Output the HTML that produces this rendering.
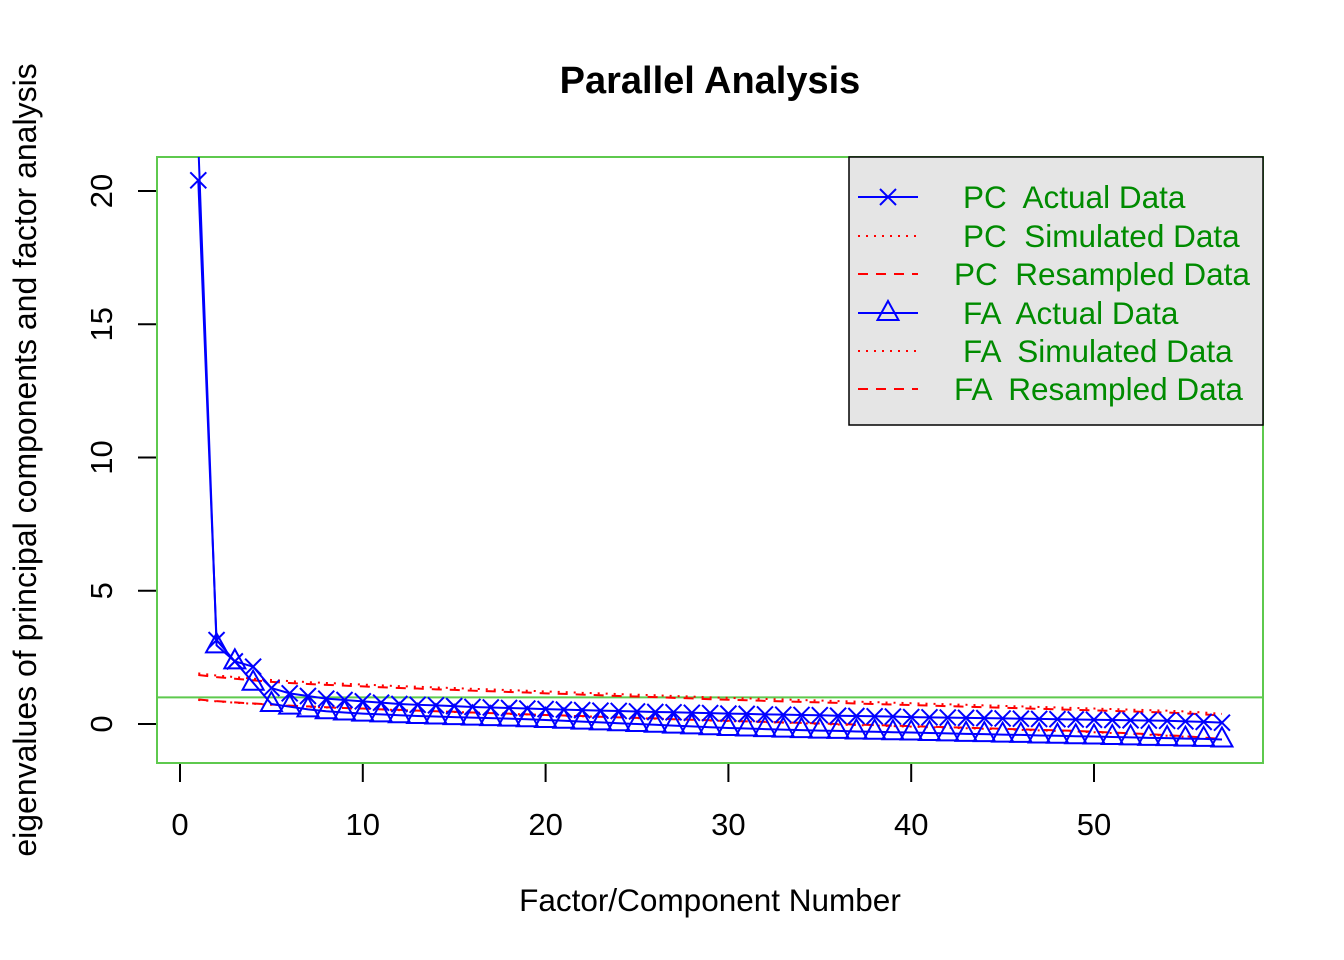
<!DOCTYPE html>
<html><head><meta charset="utf-8"><style>body{margin:0;background:#fff}svg{display:block}text{font-family:"Liberation Sans",Arial,sans-serif;white-space:pre}</style></head>
<body>
<svg id="chart" width="1344" height="960" xmlns="http://www.w3.org/2000/svg" xml:space="preserve">
<rect width="1344" height="960" fill="#fff"/>
<text x="710" y="93" font-size="38" font-weight="bold" text-anchor="middle">Parallel Analysis</text>
<text x="710" y="911" font-size="31.5" text-anchor="middle">Factor/Component Number</text>
<text transform="translate(36,460) rotate(-90)" font-size="32" text-anchor="middle">eigenvalues of principal components and factor analysis</text>
<g id="axes"></g>
<g id="marks"></g>
<g id="legend"></g>
</svg>
<script>
const xTicks=[0,10,20,30,40,50];
const yTicks=[0,5,10,15,20];
const pcActual=[20.4,3.15,2.35,2.15,1.35,1.15,1.05,0.95,0.9,0.85,0.8,0.75,0.72,0.7,0.67,0.64,0.62,0.6,0.58,0.56,0.54,0.52,0.5,0.49,0.47,0.45,0.44,0.42,0.41,0.39,0.38,0.36,0.35,0.34,0.33,0.31,0.3,0.29,0.28,0.26,0.25,0.24,0.23,0.22,0.21,0.2,0.19,0.18,0.17,0.16,0.15,0.14,0.13,0.12,0.1,0.08,0.05];
const faActual=[21.8,2.95,2.35,1.55,0.75,0.65,0.55,0.48,0.43,0.39,0.36,0.33,0.3,0.28,0.26,0.24,0.22,0.2,0.18,0.15,0.12,0.09,0.06,0.03,0.0,-0.03,-0.06,-0.09,-0.12,-0.15,-0.17,-0.19,-0.21,-0.23,-0.25,-0.26,-0.28,-0.29,-0.31,-0.32,-0.34,-0.35,-0.37,-0.38,-0.4,-0.41,-0.43,-0.44,-0.46,-0.47,-0.49,-0.5,-0.52,-0.53,-0.55,-0.56,-0.58];
const pcSim=[1.9,1.82,1.76,1.7,1.65,1.61,1.57,1.54,1.51,1.48,1.45,1.42,1.4,1.37,1.35,1.32,1.3,1.27,1.25,1.22,1.2,1.17,1.15,1.12,1.1,1.08,1.05,1.03,1.0,0.98,0.96,0.94,0.92,0.9,0.88,0.86,0.84,0.82,0.8,0.78,0.76,0.74,0.72,0.7,0.68,0.66,0.64,0.62,0.6,0.58,0.56,0.54,0.52,0.5,0.47,0.43,0.38];
const pcRes=[1.84,1.76,1.7,1.64,1.58,1.54,1.5,1.47,1.44,1.41,1.38,1.35,1.33,1.3,1.28,1.25,1.23,1.2,1.18,1.15,1.13,1.1,1.08,1.05,1.03,1.01,0.98,0.96,0.93,0.91,0.89,0.87,0.85,0.83,0.81,0.79,0.77,0.75,0.73,0.71,0.69,0.67,0.65,0.63,0.61,0.59,0.57,0.55,0.53,0.51,0.49,0.47,0.45,0.43,0.4,0.36,0.32];
const faSim=[0.9,0.85,0.8,0.76,0.72,0.68,0.65,0.62,0.6,0.57,0.55,0.52,0.5,0.48,0.45,0.43,0.41,0.38,0.36,0.34,0.31,0.29,0.27,0.25,0.22,0.2,0.18,0.16,0.13,0.11,0.09,0.07,0.05,0.03,0.0,-0.02,-0.04,-0.06,-0.08,-0.1,-0.12,-0.14,-0.16,-0.18,-0.2,-0.22,-0.24,-0.26,-0.28,-0.31,-0.34,-0.37,-0.4,-0.44,-0.48,-0.53,-0.58];
const faRes=[0.92,0.86,0.81,0.77,0.73,0.69,0.66,0.63,0.6,0.58,0.55,0.53,0.5,0.48,0.46,0.43,0.41,0.39,0.36,0.34,0.32,0.3,0.27,0.25,0.23,0.21,0.18,0.16,0.14,0.12,0.1,0.08,0.06,0.04,0.02,0.0,-0.02,-0.04,-0.06,-0.08,-0.1,-0.12,-0.14,-0.16,-0.18,-0.2,-0.22,-0.24,-0.26,-0.29,-0.32,-0.35,-0.38,-0.42,-0.46,-0.51,-0.56];
const refLine=1;
const legendLabels=["PC  Actual Data","PC  Simulated Data","PC  Resampled Data","FA  Actual Data","FA  Simulated Data","FA  Resampled Data"];

const NS="http://www.w3.org/2000/svg";
const X=v=>180+v*18.28;
const Y=v=>724-v*26.65;
const PL=157,PR=1263,PT=157,PB=763;
function mk(tag,attrs,parent){const e=document.createElementNS(NS,tag);for(const k in attrs)e.setAttribute(k,attrs[k]);parent.appendChild(e);return e;}
const axes=document.getElementById('axes'),marks=document.getElementById('marks'),leg=document.getElementById('legend');

const defs=mk('defs',{},document.getElementById('chart'));
const cp=mk('clipPath',{id:'pc'},defs);mk('rect',{x:PL,y:PT,width:PR-PL,height:PB-PT},cp);
marks.setAttribute('clip-path','url(#pc)');

xTicks.forEach(t=>{
  const l=mk('line',{x1:X(t),x2:X(t),y1:PB,y2:PB+19,stroke:'#000','stroke-width':2},axes);
  
  
  const tx=mk('text',{x:X(t),y:835,'font-size':31,'text-anchor':'middle'},axes);tx.textContent=t;
  
  
});
yTicks.forEach(t=>{
  const l=mk('line',{x1:PL-19,x2:PL,y1:Y(t),y2:Y(t),stroke:'#000','stroke-width':2},axes);
  
  
  const tx=mk('text',{transform:`translate(112,${Y(t)}) rotate(-90)`,'font-size':31,'text-anchor':'middle'},axes);tx.textContent=t;
  
  
});
const box=mk('rect',{x:PL,y:PT,width:PR-PL,height:PB-PT,fill:'none',stroke:'#5ec94e','stroke-width':2},axes);


const rl=mk('line',{x1:PL,x2:PR,y1:Y(refLine),y2:Y(refLine),stroke:'#5ec94e','stroke-width':2},axes);



function pts(arr){return arr.map((v,i)=>X(i+1)+','+Y(v)).join(' ');}
function series(arr,color,dash,name){
  const p=mk('polyline',{points:pts(arr),fill:'none',stroke:color,'stroke-width':2,'stroke-dasharray':dash||'none'},marks);
  
  
}
series(pcSim,'#ff0000','2 6','pc-simulated-line');
series(pcRes,'#ff0000','10 8','pc-resampled-line');
series(faSim,'#ff0000','2 6','fa-simulated-line');
series(faRes,'#ff0000','10 8','fa-resampled-line');
series(pcActual,'#0000ff','','pc-actual-line');
series(faActual,'#0000ff','','fa-actual-line');
function cross(cx,cy,g){mk('path',{d:`M${cx-8},${cy-8}L${cx+8},${cy+8}M${cx-8},${cy+8}L${cx+8},${cy-8}`,stroke:'#0000ff','stroke-width':2,fill:'none'},g);}
function tri(cx,cy,g){mk('path',{d:`M${cx},${cy-12}L${cx+10.5},${cy+7}L${cx-10.5},${cy+7}Z`,stroke:'#0000ff','stroke-width':2,fill:'none'},g);}
pcActual.forEach((v,i)=>{const g=mk('g',{},marks);
  
  
  cross(X(i+1),Y(v),g);});
faActual.forEach((v,i)=>{const g=mk('g',{},marks);
  
  
  tri(X(i+1),Y(v),g);});

const lb=mk('rect',{x:849,y:157,width:414,height:268,fill:'#e5e5e5',stroke:'#000','stroke-width':1.5},leg);


const ly=[197,236,274,313,351,389];
const lx=[963,963,954,963,963,954];
legendLabels.forEach((lab,i)=>{
  const g=mk('g',{},leg);
  
  
  const y=ly[i];
  if(i===0||i===3){mk('line',{x1:858,x2:918,y1:y,y2:y,stroke:'#0000ff','stroke-width':2},g);if(i===0)cross(888,y,g);else tri(888,y,g);}
  else mk('line',{x1:858,x2:918,y1:y,y2:y,stroke:'#ff0000','stroke-width':2,'stroke-dasharray':(i===1||i===4)?'2 6':'10 8'},g);
  const t=mk('text',{x:lx[i],y:y+11,'font-size':31.5,fill:'#008b00'},g);t.textContent=lab;
});
</script>
</body></html>
